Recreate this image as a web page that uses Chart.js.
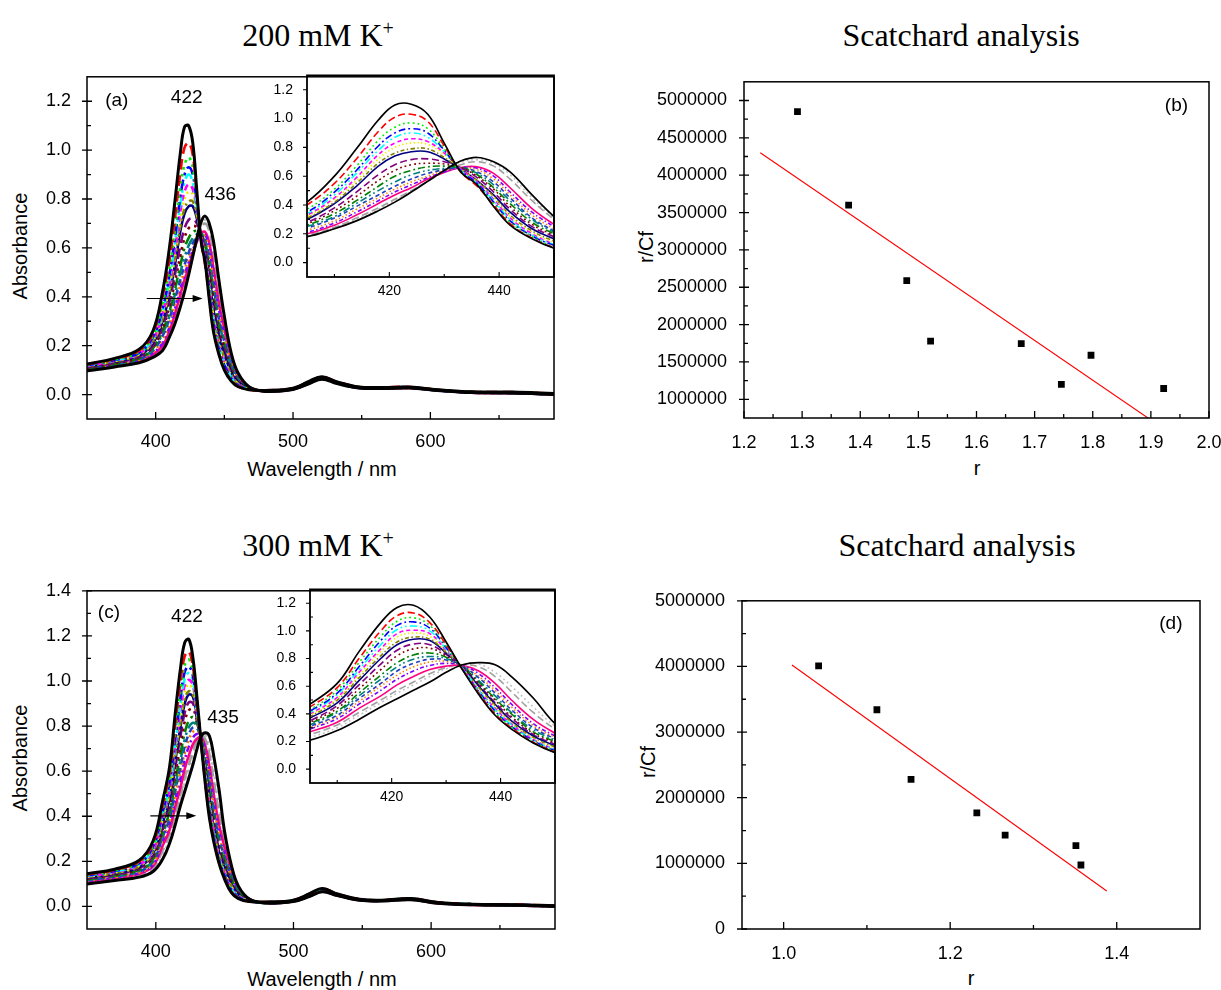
<!DOCTYPE html>
<html>
<head>
<meta charset="utf-8">
<script src="https://cdn.jsdelivr.net/npm/chart.js@4.4.0/dist/chart.umd.min.js"></script>
<style>
  body { margin:0; background:#fff; width:1221px; height:990px; position:relative; overflow:hidden;
         font-family:"Liberation Sans", Arial, sans-serif; color:#000; }
  .box { position:absolute; }
  .title { position:absolute; font-family:"Liberation Serif","Times New Roman",serif; font-size:32px;
           line-height:1; white-space:nowrap; transform:translateX(-50%); }
  .title sup { font-size:20px; position:relative; top:-11px; vertical-align:baseline; }
  .lab { position:absolute; font-size:20px; line-height:1; white-space:nowrap; transform:translate(-50%,-50%); }
  .rot { transform:translate(-50%,-50%) rotate(-90deg); }
</style>
</head>
<body>

<div class="title" style="left:318px;top:19px">200 mM K<sup>+</sup></div>
<div class="title" style="left:961px;top:19px">Scatchard analysis</div>
<div class="title" style="left:318px;top:529px">300 mM K<sup>+</sup></div>
<div class="title" style="left:957px;top:529px">Scatchard analysis</div>

<div class="lab rot" style="left:20px;top:246px">Absorbance</div>
<div class="lab" style="left:322px;top:469px">Wavelength / nm</div>
<div class="lab rot" style="left:646px;top:247px">r/Cf</div>
<div class="lab" style="left:977px;top:468px">r</div>

<div class="lab rot" style="left:20px;top:758px">Absorbance</div>
<div class="lab" style="left:322px;top:979px">Wavelength / nm</div>
<div class="lab rot" style="left:648px;top:762px">r/Cf</div>
<div class="lab" style="left:971px;top:978px">r</div>

<div class="box" id="boxA"><canvas id="chartA"></canvas></div>
<div class="box" id="boxAi"><canvas id="chartAi"></canvas></div>
<div class="box" id="boxB"><canvas id="chartB"></canvas></div>
<div class="box" id="boxC"><canvas id="chartC"></canvas></div>
<div class="box" id="boxCi"><canvas id="chartCi"></canvas></div>
<div class="box" id="boxD"><canvas id="chartD"></canvas></div>

<script>
// --- DATA ---
const wavelength = [350,370,388,398, 405,410,414,418,421,424,427,430,433,436,439,442,446,450,
                    455,460,468,480,500,512,521,532,548,565,585,605,630,660,690];

// 200 mM K+ titration spectra (first = free, last = final)
const spectraA = [
  [0.125,0.148,0.185,0.26, 0.42,0.60,0.79,0.99,1.095,1.10,1.03,0.83,0.63,0.54,0.39,0.26,0.165,0.10, 0.055,0.032,0.02,0.017,0.026,0.055,0.073,0.052,0.031,0.029,0.031,0.02,0.011,0.01,0.004],
  [0.124,0.146,0.18,0.25, 0.40,0.55,0.72,0.91,1.01,1.03,0.98,0.81,0.63,0.53,0.40,0.27,0.17,0.105, 0.058,0.034,0.02,0.017,0.026,0.054,0.072,0.052,0.031,0.029,0.031,0.02,0.011,0.01,0.004],
  [0.122,0.143,0.176,0.24, 0.37,0.51,0.67,0.85,0.94,0.97,0.93,0.79,0.63,0.54,0.41,0.28,0.18,0.11, 0.062,0.036,0.021,0.017,0.025,0.054,0.072,0.051,0.031,0.028,0.03,0.02,0.011,0.009,0.004],
  [0.12,0.141,0.172,0.235, 0.35,0.49,0.64,0.81,0.90,0.93,0.90,0.78,0.64,0.55,0.42,0.29,0.185,0.12, 0.066,0.038,0.021,0.016,0.025,0.053,0.071,0.051,0.03,0.028,0.03,0.019,0.01,0.009,0.003],
  [0.12,0.14,0.17,0.23, 0.34,0.47,0.62,0.78,0.87,0.90,0.87,0.77,0.64,0.55,0.43,0.30,0.19,0.125, 0.07,0.04,0.022,0.016,0.025,0.053,0.071,0.051,0.03,0.028,0.03,0.019,0.01,0.009,0.003],
  [0.118,0.138,0.168,0.225, 0.33,0.45,0.59,0.75,0.83,0.86,0.84,0.76,0.65,0.56,0.44,0.31,0.20,0.13, 0.074,0.042,0.022,0.016,0.025,0.052,0.07,0.05,0.03,0.027,0.03,0.019,0.01,0.008,0.003],
  [0.117,0.137,0.166,0.22, 0.32,0.44,0.57,0.72,0.80,0.83,0.82,0.75,0.65,0.56,0.45,0.32,0.21,0.14, 0.078,0.044,0.023,0.016,0.024,0.052,0.07,0.05,0.03,0.027,0.029,0.019,0.01,0.008,0.003],
  [0.116,0.135,0.163,0.215, 0.31,0.42,0.55,0.69,0.76,0.79,0.79,0.73,0.65,0.57,0.46,0.33,0.22,0.15, 0.083,0.046,0.023,0.015,0.024,0.051,0.069,0.05,0.029,0.027,0.029,0.018,0.01,0.008,0.002],
  [0.115,0.134,0.16,0.21, 0.30,0.41,0.53,0.67,0.74,0.77,0.77,0.72,0.65,0.57,0.47,0.35,0.235,0.165, 0.09,0.05,0.024,0.015,0.024,0.051,0.069,0.049,0.029,0.027,0.029,0.018,0.01,0.008,0.002],
  [0.112,0.13,0.155,0.20, 0.28,0.38,0.49,0.61,0.68,0.715,0.72,0.70,0.66,0.59,0.49,0.37,0.25,0.18, 0.097,0.053,0.025,0.015,0.023,0.05,0.068,0.049,0.029,0.026,0.029,0.018,0.009,0.007,0.002],
  [0.11,0.128,0.152,0.195, 0.27,0.36,0.46,0.57,0.64,0.68,0.69,0.685,0.66,0.60,0.51,0.39,0.265,0.19, 0.103,0.056,0.026,0.015,0.023,0.05,0.068,0.049,0.029,0.026,0.028,0.018,0.009,0.007,0.002],
  [0.108,0.126,0.149,0.19, 0.26,0.34,0.43,0.53,0.60,0.64,0.665,0.67,0.66,0.61,0.52,0.41,0.28,0.20, 0.11,0.06,0.026,0.014,0.023,0.049,0.067,0.048,0.028,0.026,0.028,0.018,0.009,0.007,0.002],
  [0.107,0.124,0.146,0.185, 0.25,0.32,0.41,0.50,0.56,0.61,0.64,0.655,0.66,0.62,0.54,0.43,0.30,0.21, 0.117,0.063,0.027,0.014,0.023,0.049,0.067,0.048,0.028,0.026,0.028,0.017,0.009,0.007,0.001],
  [0.106,0.123,0.144,0.18, 0.24,0.31,0.39,0.47,0.53,0.58,0.62,0.645,0.66,0.63,0.56,0.45,0.31,0.22, 0.123,0.066,0.028,0.014,0.022,0.048,0.066,0.048,0.028,0.025,0.028,0.017,0.009,0.006,0.001],
  [0.104,0.121,0.141,0.175, 0.225,0.29,0.37,0.45,0.51,0.56,0.60,0.64,0.66,0.645,0.58,0.47,0.33,0.235, 0.13,0.07,0.028,0.014,0.022,0.048,0.066,0.047,0.028,0.025,0.027,0.017,0.008,0.006,0.001],
  [0.103,0.12,0.139,0.17, 0.21,0.275,0.35,0.43,0.49,0.54,0.59,0.63,0.66,0.655,0.60,0.49,0.35,0.25, 0.137,0.073,0.029,0.014,0.022,0.047,0.065,0.047,0.027,0.025,0.027,0.017,0.008,0.006,0.001],
  [0.102,0.118,0.137,0.165, 0.20,0.26,0.33,0.41,0.47,0.52,0.58,0.625,0.66,0.665,0.62,0.52,0.375,0.265, 0.145,0.077,0.03,0.013,0.022,0.047,0.065,0.047,0.027,0.025,0.027,0.017,0.008,0.006,0.0],
  [0.098,0.114,0.133,0.158, 0.19,0.245,0.31,0.38,0.44,0.50,0.565,0.63,0.68,0.70,0.67,0.58,0.43,0.30, 0.158,0.083,0.031,0.013,0.021,0.046,0.064,0.046,0.027,0.025,0.027,0.017,0.008,0.006,0.0],
  [0.096,0.112,0.131,0.155, 0.185,0.24,0.30,0.37,0.43,0.495,0.565,0.635,0.695,0.715,0.69,0.61,0.45,0.31, 0.164,0.086,0.032,0.013,0.021,0.046,0.064,0.046,0.027,0.025,0.027,0.017,0.008,0.006,0.0],
  [0.097,0.113,0.13,0.152, 0.18,0.235,0.29,0.36,0.42,0.49,0.565,0.64,0.705,0.73,0.70,0.63,0.47,0.32, 0.17,0.088,0.032,0.013,0.021,0.045,0.063,0.045,0.027,0.025,0.027,0.017,0.008,0.006,0.0]
];

// 300 mM K+ titration spectra
const spectraC = [
  [0.145,0.165,0.205,0.29, 0.47,0.62,0.85,1.06,1.17,1.185,1.10,0.92,0.72,0.54,0.39,0.29,0.19,0.12, 0.06,0.035,0.022,0.02,0.028,0.058,0.08,0.055,0.032,0.028,0.035,0.018,0.01,0.008,0.003],
  [0.142,0.162,0.2,0.28, 0.45,0.59,0.80,1.00,1.11,1.13,1.06,0.90,0.72,0.55,0.40,0.30,0.195,0.125, 0.064,0.037,0.022,0.02,0.028,0.057,0.079,0.055,0.032,0.028,0.035,0.018,0.01,0.008,0.003],
  [0.14,0.16,0.196,0.27, 0.43,0.57,0.77,0.96,1.07,1.095,1.04,0.89,0.72,0.55,0.41,0.305,0.20,0.13, 0.068,0.039,0.023,0.019,0.027,0.057,0.078,0.054,0.032,0.028,0.035,0.018,0.01,0.008,0.003],
  [0.138,0.157,0.192,0.265, 0.42,0.55,0.74,0.93,1.04,1.065,1.02,0.88,0.72,0.56,0.42,0.31,0.205,0.135, 0.072,0.041,0.023,0.019,0.027,0.056,0.077,0.054,0.031,0.027,0.034,0.017,0.01,0.008,0.003],
  [0.136,0.155,0.188,0.26, 0.41,0.54,0.72,0.90,1.01,1.035,1.00,0.87,0.73,0.57,0.43,0.32,0.21,0.14, 0.076,0.043,0.024,0.019,0.027,0.055,0.076,0.053,0.031,0.027,0.034,0.017,0.01,0.007,0.003],
  [0.134,0.153,0.185,0.25, 0.40,0.52,0.70,0.87,0.98,1.005,0.98,0.86,0.73,0.57,0.44,0.325,0.215,0.145, 0.08,0.045,0.024,0.018,0.026,0.055,0.076,0.053,0.031,0.027,0.034,0.017,0.009,0.007,0.002],
  [0.132,0.15,0.182,0.245, 0.39,0.51,0.68,0.85,0.955,0.985,0.96,0.855,0.73,0.58,0.45,0.33,0.22,0.15, 0.084,0.047,0.025,0.018,0.026,0.054,0.075,0.052,0.031,0.027,0.033,0.017,0.009,0.007,0.002],
  [0.13,0.148,0.178,0.24, 0.38,0.50,0.66,0.82,0.92,0.955,0.94,0.845,0.73,0.59,0.46,0.34,0.23,0.16, 0.09,0.05,0.025,0.018,0.026,0.053,0.074,0.052,0.031,0.027,0.033,0.016,0.009,0.007,0.002],
  [0.128,0.146,0.175,0.235, 0.37,0.48,0.64,0.80,0.90,0.94,0.93,0.84,0.735,0.60,0.47,0.35,0.24,0.17, 0.096,0.053,0.026,0.017,0.025,0.053,0.073,0.052,0.03,0.026,0.033,0.016,0.009,0.007,0.002],
  [0.125,0.142,0.17,0.225, 0.35,0.46,0.61,0.76,0.86,0.905,0.90,0.83,0.735,0.61,0.48,0.37,0.25,0.18, 0.103,0.056,0.027,0.017,0.025,0.052,0.072,0.051,0.03,0.026,0.032,0.016,0.009,0.007,0.002],
  [0.123,0.14,0.166,0.22, 0.34,0.44,0.58,0.72,0.82,0.87,0.875,0.82,0.74,0.62,0.50,0.38,0.26,0.19, 0.11,0.06,0.028,0.017,0.025,0.051,0.071,0.051,0.03,0.026,0.032,0.016,0.008,0.006,0.002],
  [0.121,0.137,0.162,0.21, 0.33,0.42,0.55,0.68,0.77,0.825,0.84,0.81,0.74,0.63,0.51,0.40,0.27,0.20, 0.117,0.063,0.028,0.016,0.024,0.051,0.071,0.05,0.03,0.026,0.032,0.016,0.008,0.006,0.001],
  [0.119,0.135,0.158,0.205, 0.32,0.41,0.53,0.65,0.74,0.795,0.815,0.80,0.745,0.64,0.53,0.41,0.285,0.21, 0.124,0.067,0.029,0.016,0.024,0.05,0.07,0.05,0.03,0.025,0.032,0.015,0.008,0.006,0.001],
  [0.117,0.133,0.155,0.20, 0.31,0.39,0.51,0.62,0.71,0.765,0.795,0.79,0.745,0.66,0.55,0.43,0.30,0.22, 0.131,0.07,0.03,0.016,0.024,0.049,0.069,0.05,0.029,0.025,0.031,0.015,0.008,0.006,0.001],
  [0.115,0.13,0.151,0.19, 0.30,0.38,0.49,0.60,0.68,0.74,0.775,0.78,0.75,0.67,0.57,0.45,0.315,0.23, 0.138,0.074,0.03,0.016,0.023,0.049,0.068,0.049,0.029,0.025,0.031,0.015,0.008,0.006,0.001],
  [0.113,0.128,0.148,0.185, 0.29,0.365,0.47,0.57,0.65,0.71,0.75,0.765,0.75,0.69,0.59,0.47,0.33,0.24, 0.145,0.077,0.031,0.015,0.023,0.048,0.068,0.049,0.029,0.025,0.031,0.015,0.008,0.006,0.001],
  [0.111,0.126,0.145,0.18, 0.27,0.34,0.44,0.53,0.61,0.67,0.72,0.745,0.75,0.71,0.62,0.50,0.36,0.26, 0.153,0.081,0.031,0.015,0.023,0.047,0.067,0.049,0.028,0.025,0.031,0.014,0.007,0.005,0.0],
  [0.106,0.12,0.138,0.17, 0.25,0.32,0.41,0.50,0.57,0.63,0.69,0.735,0.755,0.74,0.67,0.56,0.41,0.29, 0.165,0.086,0.032,0.015,0.022,0.046,0.066,0.048,0.028,0.024,0.03,0.014,0.007,0.005,0.0],
  [0.103,0.117,0.134,0.162, 0.23,0.30,0.39,0.48,0.55,0.61,0.67,0.725,0.76,0.76,0.70,0.60,0.45,0.31, 0.172,0.088,0.033,0.015,0.022,0.046,0.065,0.048,0.028,0.024,0.03,0.014,0.007,0.005,0.0],
  [0.10,0.115,0.13,0.155, 0.21,0.28,0.36,0.45,0.51,0.57,0.63,0.70,0.755,0.77,0.755,0.67,0.515,0.33, 0.18,0.09,0.033,0.015,0.022,0.045,0.065,0.048,0.027,0.024,0.03,0.014,0.007,0.005,0.0]
];

// Scatchard (b) and (d)
const rB = [1.292, 1.380, 1.480, 1.521, 1.677, 1.746, 1.797, 1.922];
const rCfB = [4850000, 3600000, 2590000, 1780000, 1745000, 1200000, 1590000, 1145000];
const fitRB = [1.228, 1.895];
const fitYB = [4300000, 750000];
const rD = [1.042, 1.112, 1.153, 1.232, 1.266, 1.351, 1.357];
const rCfD = [4010000, 3340000, 2280000, 1770000, 1430000, 1270000, 975000];
const fitRD = [1.010, 1.388];
const fitYD = [4022000, 579000];

// tick labels
const wlTicks = [400, 500, 600];
const wlMinor = [450, 550, 650];
const absTicksA = [0, 0.2, 0.4, 0.6, 0.8, 1.0, 1.2];
const absTicksC = [0, 0.2, 0.4, 0.6, 0.8, 1.0, 1.2, 1.4];
const absMinorA = [0.1, 0.3, 0.5, 0.7, 0.9, 1.1];
const absMinorC = [0.1, 0.3, 0.5, 0.7, 0.9, 1.1, 1.3];
const insetWlTicks = [420, 440];
const insetWlMinor = [410, 430];
const rTicksB = [1.2, 1.3, 1.4, 1.5, 1.6, 1.7, 1.8, 1.9, 2.0];
const rMinorB = [1.25, 1.35, 1.45, 1.55, 1.65, 1.75, 1.85, 1.95];
const yTicksB = [1000000, 1500000, 2000000, 2500000, 3000000, 3500000, 4000000, 4500000, 5000000];
const yMinorB = [1250000, 1750000, 2250000, 2750000, 3250000, 3750000, 4250000, 4750000];
const rTicksD = [1.0, 1.2, 1.4];
const rMinorD = [1.1, 1.3];
const yTicksD = [0, 1000000, 2000000, 3000000, 4000000, 5000000];
const yMinorD = [500000, 1500000, 2500000, 3500000, 4500000];

const curveColors = ['#000000','#FF0000','#00EE00','#0000FF','#00FFFF','#FF00FF','#EEEE00','#808000',
                     '#000080','#800080','#800000','#008000','#008080','#2040C0','#FF8000','#8000FF',
                     '#FF0080','#A0A0A0','#C0C0C0','#000000'];
const curveStyles = ['solid','dash','dot','dashdot','dashdotdot','sdash','sdot','sdashdot',
                     'solid','dash','dot','dashdot','dashdotdot','sdash','sdot','sdashdot',
                     'solid','dash','dot','solid'];

const FONT = '"Liberation Sans", Arial, sans-serif';

function dashFor(style, s) {
  const p = {
    solid: [], dash: [6, 3], dot: [1.5, 2.5], dashdot: [6, 2.5, 1.5, 2.5],
    dashdotdot: [6, 2.5, 1.5, 2.5, 1.5, 2.5], sdash: [3.5, 2.5], sdot: [1.2, 2],
    sdashdot: [3.5, 2, 1.2, 2]
  }[style];
  return p.map(v => v * s);
}

function spectrumSets(rows, inset) {
  return rows.map((row, k) => {
    const black = k === 0 || k === rows.length - 1;
    return {
      data: wavelength.map((w, i) => ({x: w, y: row[i]})),
      borderColor: curveColors[k],
      borderWidth: inset ? (black ? 1.7 : 1.6) : (black ? 3 : 2.6),
      borderDash: dashFor(curveStyles[k], inset ? 1.2 : 1.8),
      pointRadius: 0,
      tension: 0.4,
      fill: false,
      order: black ? 0 : 1
    };
  });
}

// frame, tick marks, annotations
const deco = {
  id: 'deco',
  afterDraw(chart, args, o) {
    const {ctx, chartArea: a} = chart;
    const x = chart.scales.x, y = chart.scales.y;
    ctx.save();
    ctx.strokeStyle = '#000';
    ctx.lineWidth = o.lw;
    ctx.strokeRect(a.left, a.top, a.right - a.left, a.bottom - a.top);
    ctx.lineWidth = o.tw;
    ctx.beginPath();
    o.xMajor.forEach(v => { const p = x.getPixelForValue(v); ctx.moveTo(p, a.bottom); ctx.lineTo(p, a.bottom - o.xMaj); });
    o.xMinor.forEach(v => { const p = x.getPixelForValue(v); ctx.moveTo(p, a.bottom); ctx.lineTo(p, a.bottom - o.xMin); });
    o.yMajor.forEach(v => { const p = y.getPixelForValue(v); ctx.moveTo(a.left - o.yOut, p); ctx.lineTo(a.left + o.yIn, p); });
    o.yMinor.forEach(v => { const p = y.getPixelForValue(v); ctx.moveTo(a.left, p); ctx.lineTo(a.left + o.yMin, p); });
    ctx.stroke();
    ctx.fillStyle = '#000';
    ctx.textAlign = 'center';
    ctx.textBaseline = 'middle';
    ctx.font = '19px ' + FONT;
    (o.texts || []).forEach(t => ctx.fillText(t.t, x.getPixelForValue(t.x), y.getPixelForValue(t.y)));
    if (o.arrow) {
      const x1 = x.getPixelForValue(o.arrow.x1), x2 = x.getPixelForValue(o.arrow.x2), py = y.getPixelForValue(o.arrow.y);
      ctx.lineWidth = 1.2;
      ctx.beginPath(); ctx.moveTo(x1, py); ctx.lineTo(x2 - 6, py); ctx.stroke();
      ctx.beginPath(); ctx.moveTo(x2, py); ctx.lineTo(x2 - 10, py - 3.5); ctx.lineTo(x2 - 10, py + 3.5); ctx.closePath(); ctx.fill();
    }
    ctx.restore();
  }
};

// position a chart so its plot area lands on L,T,R,B
function place(boxId, L, T, R, B, yW, xH, padT, padR) {
  const box = document.getElementById(boxId);
  box.style.left = (L - yW) + 'px';
  box.style.top = (T - padT) + 'px';
  box.style.width = (yW + (R - L) + padR) + 'px';
  box.style.height = (padT + (B - T) + xH) + 'px';
  return {padding: {left: 0, top: padT, right: padR, bottom: 0}};
}

function axes(xmin, xmax, xt, xfmt, ymin, ymax, yt, yfmt, yW, xH, fs, xpad, ypad) {
  return {
    x: {
      type: 'linear', min: xmin, max: xmax,
      afterBuildTicks: s => { s.ticks = xt.map(v => ({value: v})); },
      afterFit: s => { s.height = xH; },
      grid: {display: false}, border: {display: false},
      ticks: {autoSkip: false, maxRotation: 0, padding: xpad, color: '#000',
              font: {family: FONT, size: fs}, callback: xfmt}
    },
    y: {
      type: 'linear', min: ymin, max: ymax,
      afterBuildTicks: s => { s.ticks = yt.map(v => ({value: v})); },
      afterFit: s => { s.width = yW; },
      grid: {display: false}, border: {display: false},
      ticks: {autoSkip: false, padding: ypad, color: '#000',
              font: {family: FONT, size: fs}, callback: yfmt}
    }
  };
}

const basePlugins = {legend: {display: false}, tooltip: {enabled: false}};
const f1 = v => Number(v).toFixed(1);
const f0 = v => String(Math.round(v));
const fint = v => String(v);

function spectrumChart(id, boxId, rows, rect, ymax, yt, ymin_, yMinor, texts, arrow) {
  const layout = place(boxId, rect[0], rect[1], rect[2], rect[3], 60, 45, 15, 25);
  return new Chart(document.getElementById(id), {
    type: 'line',
    data: {datasets: spectrumSets(rows, false)},
    options: {
      responsive: true, maintainAspectRatio: false, animation: false, events: [],
      layout: layout,
      scales: axes(350, 690, wlTicks, fint, ymin_, ymax, yt, f1, 60, 45, 18, 4, 8),
      plugins: Object.assign({}, basePlugins, {
        deco: {lw: 1.5, tw: 1.3, xMajor: wlTicks, xMinor: wlMinor, xMaj: 7, xMin: 4,
               yMajor: yt, yMinor: yMinor, yOut: 5, yIn: 5, yMin: 4, texts: texts, arrow: arrow}
      })
    },
    plugins: [deco]
  });
}

function insetChart(id, boxId, rows, rect) {
  const layout = place(boxId, rect[0], rect[1], rect[2], rect[3], 35, 28, 12, 12);
  return new Chart(document.getElementById(id), {
    type: 'line',
    data: {datasets: spectrumSets(rows, true)},
    options: {
      responsive: true, maintainAspectRatio: false, animation: false, events: [],
      layout: layout,
      scales: axes(405, 450, insetWlTicks, fint, -0.1, 1.3, absTicksA, f1, 35, 28, 14, -2, 6),
      plugins: Object.assign({}, basePlugins, {
        deco: {lw: 1.8, tw: 1.1, xMajor: insetWlTicks, xMinor: insetWlMinor, xMaj: 5, xMin: 3,
               yMajor: absTicksA, yMinor: absMinorA, yOut: 4, yIn: 0, yMin: 3}
      })
    },
    plugins: [deco]
  });
}

function scatchardChart(id, boxId, rect, rs, ys, fr, fy, xmin, xmax, xt, xm, ymin, ymax, yt, ym, label) {
  const layout = place(boxId, rect[0], rect[1], rect[2], rect[3], 90, 45, 15, 25);
  return new Chart(document.getElementById(id), {
    type: 'scatter',
    data: {
      datasets: [
        {data: rs.map((r, i) => ({x: r, y: ys[i]})), pointStyle: 'rect', pointRadius: 4.8,
         backgroundColor: '#000', borderColor: '#000', borderWidth: 0},
        {type: 'line', data: fr.map((r, i) => ({x: r, y: fy[i]})), borderColor: '#FF0000',
         borderWidth: 1.1, pointRadius: 0, fill: false}
      ]
    },
    options: {
      responsive: true, maintainAspectRatio: false, animation: false, events: [],
      layout: layout,
      scales: axes(xmin, xmax, xt, f1, ymin, ymax, yt, f0, 90, 45, 18, 6, 9),
      plugins: Object.assign({}, basePlugins, {
        deco: {lw: 1.5, tw: 1.3, xMajor: xt, xMinor: xm, xMaj: 7, xMin: 4,
               yMajor: yt, yMinor: ym, yOut: 5, yIn: 5, yMin: 4, texts: [label]}
      })
    },
    plugins: [deco]
  });
}

spectrumChart('chartA', 'boxA', spectraA, [87, 73, 554, 419], 1.3, absTicksA, -0.1, absMinorA,
  [{t: '(a)', x: 371.7, y: 1.2}, {t: '422', x: 422.6, y: 1.216}, {t: '436', x: 447, y: 0.817}],
  {x1: 393.5, x2: 434.2, y: 0.393});
insetChart('chartAi', 'boxAi', spectraA, [307, 73, 554, 277]);

spectrumChart('chartC', 'boxC', spectraC, [87, 587, 555, 929], 1.4, absTicksC, -0.1, absMinorC,
  [{t: '(c)', x: 365.9, y: 1.302}, {t: '422', x: 422.6, y: 1.285}, {t: '435', x: 448.8, y: 0.837}],
  {x1: 396, x2: 429.4, y: 0.402});
insetChart('chartCi', 'boxCi', spectraC, [310, 587, 555, 783]);

scatchardChart('chartB', 'boxB', [744, 77, 1209, 418], rB, rCfB, fitRB, fitYB,
  1.2, 2.0, rTicksB, rMinorB, 750000, 5250000, yTicksB, yMinorB, {t: '(b)', x: 1.944, y: 4930000});
scatchardChart('chartD', 'boxD', [742, 596, 1200, 929], rD, rCfD, fitRD, fitYD,
  0.95, 1.5, rTicksD, rMinorD, 0, 5000000, yTicksD, yMinorD, {t: '(d)', x: 1.465, y: 4650000});
</script>
</body>
</html>
